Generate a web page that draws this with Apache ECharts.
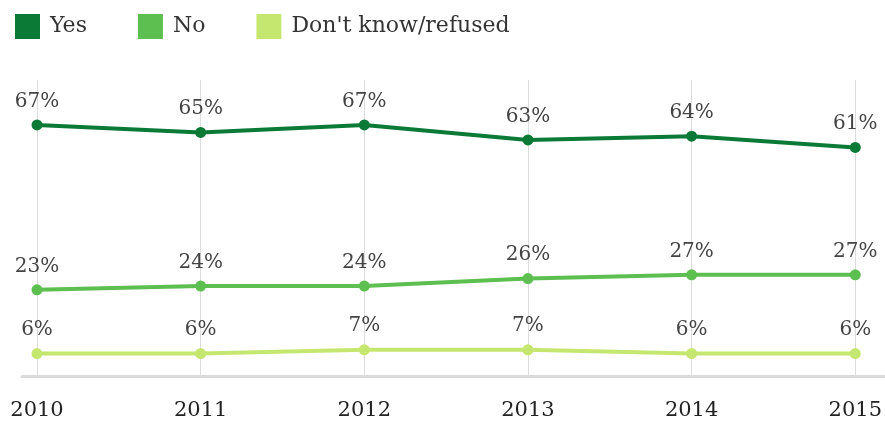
<!DOCTYPE html>
<html>
<head>
<meta charset="utf-8">
<script src="https://cdn.jsdelivr.net/npm/echarts@6/dist/echarts.min.js"></script>
<style>
  html, body { margin: 0; padding: 0; background: #fff; }
  #chart { width: 885px; height: 424px; }
</style>
</head>
<body>
<div id="chart"></div>
<script>
  const years = ['2010', '2011', '2012', '2013', '2014', '2015']
  const yes = [67, 65, 67, 63, 64, 61]
  const no = [23, 24, 24, 26, 27, 27]
  const dontKnow = [6, 6, 7, 7, 6, 6]

  const font = 'DejaVu Serif'
  const colors = ['#0b7a36', '#5cbf50', '#c6e76f']

  function makeSeries(name, data, color) {
    return {
      name: name,
      type: 'line',
      data: data,
      color: color,
      symbol: 'circle',
      symbolSize: 11,
      lineStyle: { width: 4, color: color },
      itemStyle: { color: color },
      label: {
        show: true,
        position: 'top',
        distance: 8,
        formatter: '{c}%',
        fontFamily: font,
        fontSize: 20,
        color: '#444'
      },
      animation: false
    }
  }

  const chart = echarts.init(document.getElementById('chart'))
  chart.setOption({
    color: colors,
    textStyle: { fontFamily: font },
    legend: {
      left: 10,
      top: 9,
      icon: 'rect',
      itemWidth: 25,
      itemHeight: 25,
      itemGap: 51,
      textStyle: { fontFamily: font, fontSize: 22, color: '#333', padding: [0, 0, 0, 5] },
      data: ['Yes', 'No', "Don't know/refused"]
    },
    grid: [
      { left: 37, right: 24, top: 80, bottom: 48 },
      { left: 22, right: 0, top: 80, bottom: 48 }
    ],
    xAxis: [{
      type: 'category',
      gridIndex: 0,
      data: years,
      boundaryGap: false,
      axisLine: { show: false },
      axisTick: { show: false },
      splitLine: { show: true, lineStyle: { color: '#dcdcdc', width: 1 } },
      axisLabel: { margin: 24, fontFamily: font, fontSize: 21, color: '#222' }
    }, {
      type: 'value',
      gridIndex: 1,
      min: 0,
      max: 1,
      axisLine: { show: true, lineStyle: { color: '#dadada', width: 3 } },
      axisTick: { show: false },
      axisLabel: { show: false },
      splitLine: { show: false }
    }],
    yAxis: [{
      type: 'value',
      gridIndex: 0,
      min: 0,
      max: 79,
      show: false,
      splitLine: { show: false }
    }, {
      type: 'value',
      gridIndex: 1,
      show: false
    }],
    series: [
      makeSeries('Yes', yes, colors[0]),
      makeSeries('No', no, colors[1]),
      makeSeries("Don't know/refused", dontKnow, colors[2])
    ]
  })
</script>
</body>
</html>
